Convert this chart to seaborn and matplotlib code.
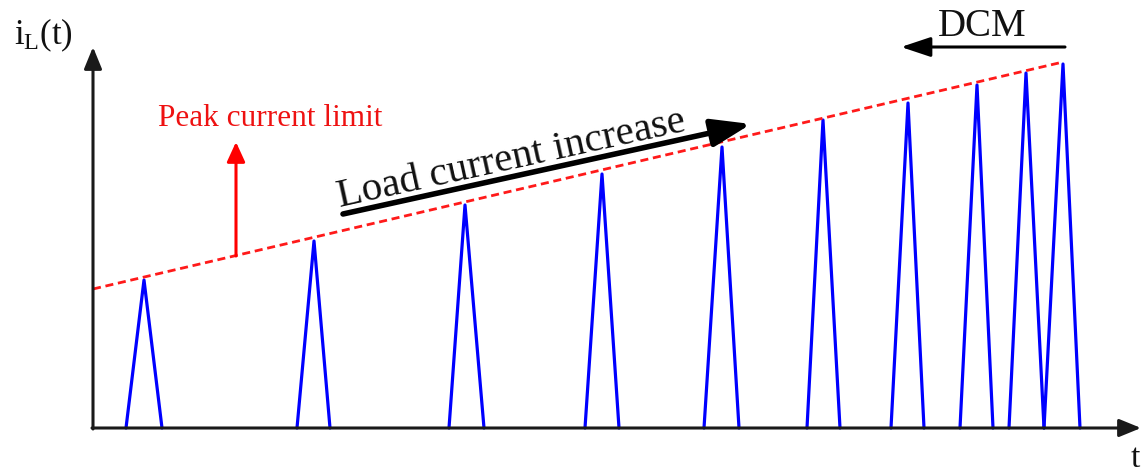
import matplotlib
matplotlib.use("Agg")
import matplotlib.pyplot as plt
import seaborn as sns
import pandas as pd

# Inductor current pulses: start of rise, peak instant, end of fall, peak value
t_start = [33, 204, 356, 492, 611, 714, 798, 867, 916, 951]
t_peak = [51, 221, 372, 509, 629, 730, 815, 884, 933, 970]
t_end = [69, 237, 391, 526, 646, 747, 831, 900, 951, 987]
i_peak = [148, 187, 223, 254, 281, 308, 325, 343, 355, 364]

# Peak current limit (straight ramp)
limit_t = [0, 970]
limit_i = [139, 366]

sns.set_theme(style="white")
plt.rcParams["font.family"] = ["Liberation Serif", "DejaVu Serif"]
plt.rcParams["mathtext.fontset"] = "custom"
plt.rcParams["mathtext.rm"] = "Liberation Serif"
plt.rcParams["mathtext.it"] = "Liberation Serif"

rows = []
for k, (a, p, b, h) in enumerate(zip(t_start, t_peak, t_end, i_peak)):
    rows += [(k, 0, a, 0.0), (k, 1, p, h), (k, 2, b, 0.0)]
pulses = pd.DataFrame(rows, columns=["pulse", "step", "t", "i"])
limit = pd.DataFrame({"t": limit_t, "i": limit_i})

fig = plt.figure(figsize=(11.42, 4.74), dpi=100)
ax = fig.add_axes([0, 0, 1, 1])
ax.set_xlim(-93, 1049)
ax.set_ylim(-46, 428)
ax.axis("off")

# Coordinate axes with arrow heads
axis_kw = dict(arrowstyle="-|>,head_length=1.1,head_width=0.45",
               mutation_scale=12, color="#1a1a1a", lw=2.2,
               shrinkA=0, shrinkB=0)
ax.annotate("", xy=(0, 381), xytext=(0, -1), arrowprops=axis_kw)
ax.annotate("", xy=(1048, 0), xytext=(-1, 0), arrowprops=axis_kw)

# Current pulses
sns.lineplot(data=pulses, x="t", y="i", units="pulse", estimator=None,
             sort=False, color="#0000ff", lw=2.3, ax=ax, legend=False)

# Peak current limit
sns.lineplot(data=limit, x="t", y="i", color="#ff1a1a", lw=2.0,
             ax=ax, legend=False, linestyle="--")
ax.lines[-1].set_dashes([2.9, 1.7])

# Red arrow pointing up from the limit
ax.annotate("", xy=(143, 286), xytext=(143, 172),
            arrowprops=dict(arrowstyle="-|>,head_length=1.2,head_width=0.55",
                            mutation_scale=10, color="#ff0000", lw=2.2,
                            shrinkA=0, shrinkB=0))
ax.text(177, 310, "Peak current limit", color="#ee1111", fontsize=22.5,
        ha="center", va="center")

# Load current increase arrow and label
ax.annotate("", xy=(658, 304), xytext=(250, 214),
            arrowprops=dict(arrowstyle="-|>,head_length=1.7,head_width=0.6",
                            mutation_scale=14, color="black", lw=4,
                            shrinkA=0, shrinkB=0))
ax.text(419, 268, "Load current increase", fontsize=29.5, rotation=12.4,
        rotation_mode="anchor", ha="center", va="center", color="#111111")

# DCM arrow and label
ax.annotate("", xy=(808, 381), xytext=(972, 381),
            arrowprops=dict(arrowstyle="-|>,head_length=1.5,head_width=0.5",
                            mutation_scale=12, color="black", lw=2.2,
                            shrinkA=0, shrinkB=0))
ax.text(889, 402, "DCM", fontsize=28, ha="center", va="center",
        color="#111111")

# Axis labels
ax.text(-50, 393, r"$\mathrm{i_L(t)}$", fontsize=25, ha="center",
        va="center", color="#111111")
ax.text(1042, -31, "t", fontsize=24, ha="center", va="center",
        color="#111111")

fig.savefig("out.png", dpi=100)
